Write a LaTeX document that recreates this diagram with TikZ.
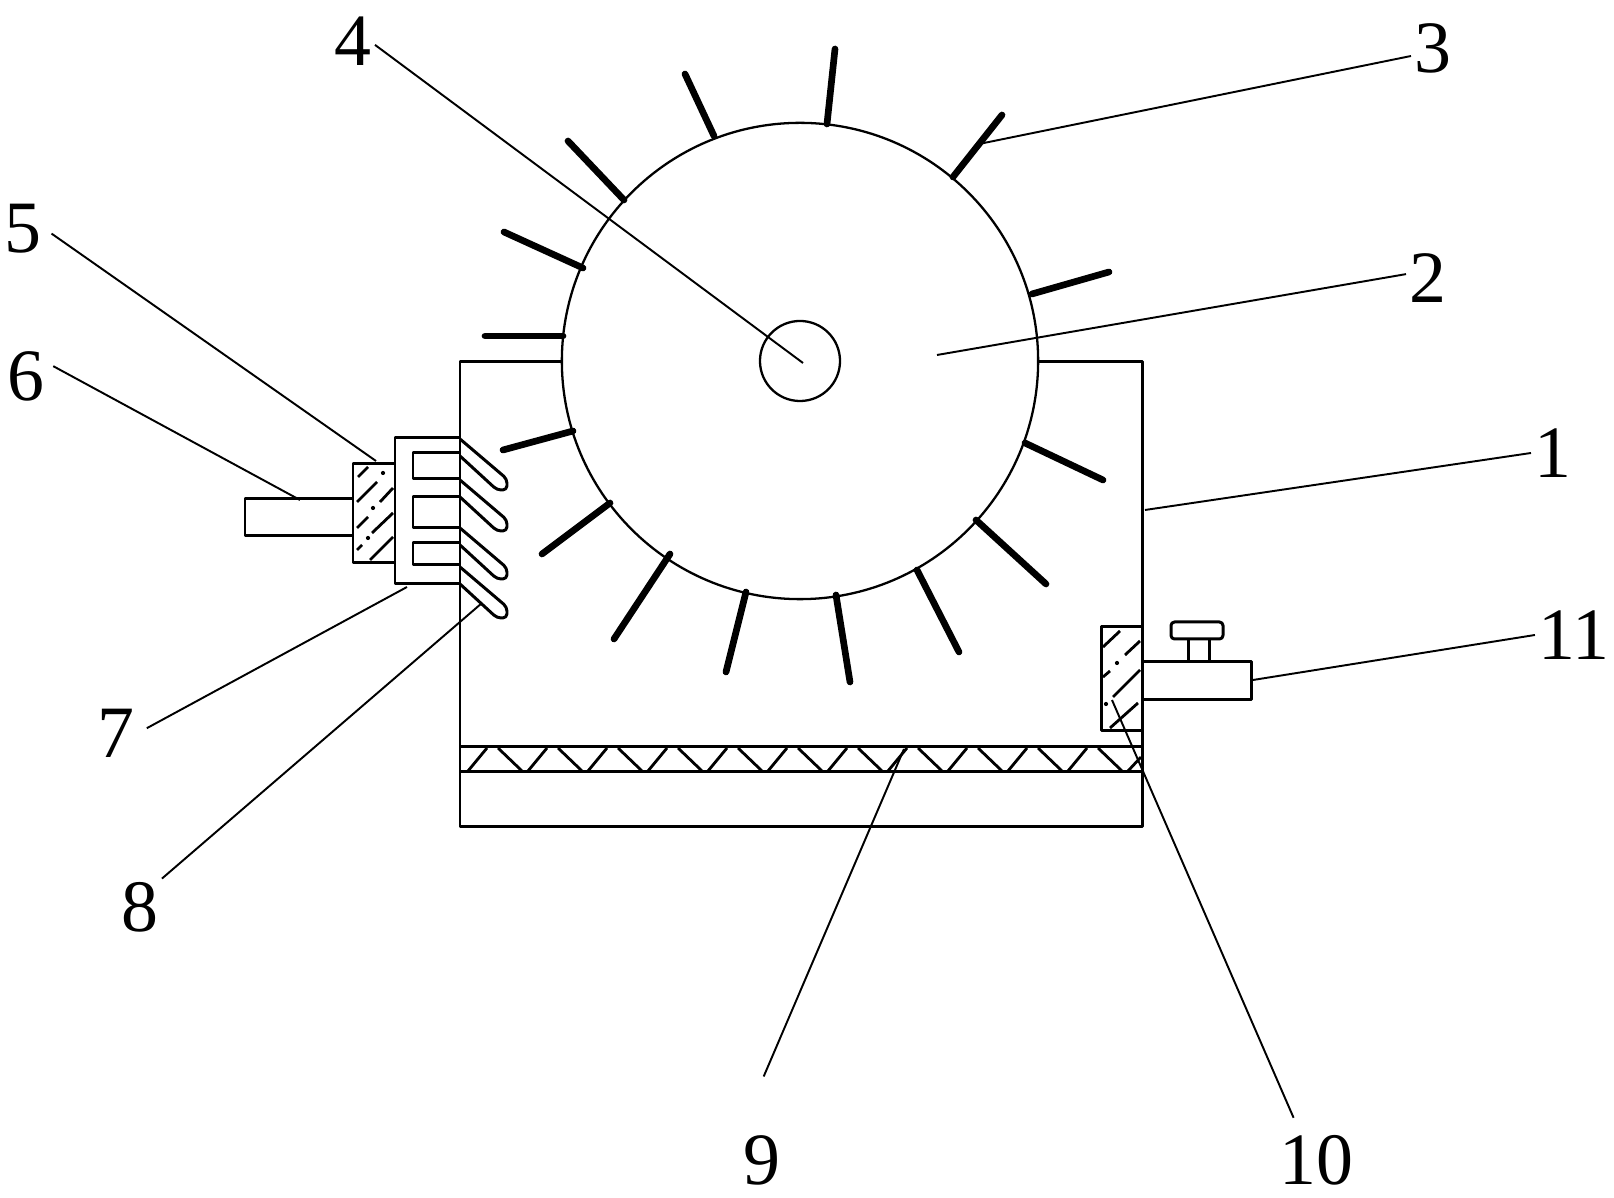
\documentclass[tikz,border=0pt]{standalone}
\usepackage{fontspec}
\setmainfont{Liberation Serif}
\usepackage{tikz}
\usetikzlibrary{calc}
\tikzset{
    part/.style = {line width = 0.85pt, line join = round},
    hatchline/.style = {line width = 0.8pt},
    spike/.style = {line width = 1.9pt, line cap = round},
    leader/.style = {line width = 0.55pt},
    partno/.style = {font = \fontsize{21}{21}\selectfont, inner sep = 1pt, outer sep = 0pt}
}

\begin{document}
\begin{tikzpicture}[x = 0.01cm, y = -0.01cm]
        \useasboundingbox (0, 0) rectangle (1614, 1198);

        \draw [part] (460, 362) rectangle (1142, 827);
        \draw [part] (460, 747) -- (1142, 747);
        \draw [part] (460, 772) -- (1142, 772);
        \foreach \a in {493, 553, ..., 1093}
        {
            \draw [hatchline] (\a-25, 771) -- (\a-6, 748);
            \draw [hatchline] (\a+5, 748) -- (\a+29, 771);
        }
        \draw [hatchline] (1128, 771) -- (1141, 757);

        \node (wheel) [circle, draw, line width = 0.65pt, fill = white, minimum size = 4.76cm, inner sep = 0pt] at (800, 361) {};
        \node (hub) [circle, draw, line width = 0.65pt, fill = white, minimum size = 0.8cm, inner sep = 0pt] at (800, 361) {};

        \foreach \a/\b/\c/\d in {835/49/827/124, 685/74/714/136, 568/141/624/200, 504/232/583/268,
            485/336/563/336, 503/450/573/431, 542/554/610/503, 614/639/670/554, 726/672/746/592,
            850/682/836/595, 959/652/917/570, 1046/584/976/520, 1103/480/1025/443, 1109/272/1032/294,
            1002/115/953/177}
        {
            \draw [spike] (\a, \b) -- (\c, \d);
        }

        \draw [part] (460, 438) -- (395, 438) -- (395, 584) -- (460, 584);
        \draw [part] (460, 453) -- (413, 453) -- (413, 479) -- (460, 479);
        \draw [part] (460, 497) -- (413, 497) -- (413, 528) -- (460, 528);
        \draw [part] (460, 543) -- (413, 543) -- (413, 565) -- (460, 565);
        \draw [part] (395, 464) -- (353, 464) -- (353, 563) -- (395, 563);
        \draw [part] (353, 499) -- (245, 499) -- (245, 536) -- (353, 536);

        \foreach \t in {439, 480, 528, 567}
        {
            \draw [part, rounded corners = 1.2pt] (460, \t) -- (507, \t+40) -- (507, \t+51) -- (497, \t+51) -- (460, \t+17);
        }

        \foreach \a/\b/\c/\d in {358/477/368/467, 357/502/377/482, 380/502/393/488, 357/528/368/517,
            372/533/393/513, 357/550/362/545, 370/560/393/537, 1103/647/1120/631, 1125/655/1140/641,
            1103/677/1110/671, 1113/697/1140/670, 1110/728/1138/703}
        {
            \draw [hatchline] (\a, \b) -- (\c, \d);
        }
        \foreach \a/\b in {383/473, 373/508, 368/538, 1117/663, 1106/704}
        {
            \fill (\a, \b) circle (0.6pt);
        }

        \draw [part] (1101, 627) rectangle (1142, 731);
        \draw [part] (1142, 662) -- (1251, 662) -- (1251, 700) -- (1142, 700);
        \draw [part] (1188, 662) -- (1188, 639);
        \draw [part] (1209, 662) -- (1209, 639);
        \draw [part, rounded corners = 1pt] (1171, 622) rectangle (1223, 639);

        \node (no1) [partno] at (1553, 453) {1};
        \node (no2) [partno] at (1428, 278) {2};
        \node (no3) [partno] at (1433, 48) {3};
        \node (no4) [partno] at (353, 41) {4};
        \node (no5) [partno] at (23, 229) {5};
        \node (no6) [partno] at (26, 376) {6};
        \node (no7) [partno] at (116, 733) {7};
        \node (no8) [partno] at (140, 907) {8};
        \node (no9) [partno] at (762, 1160) {9};
        \node (no10) [partno] at (1316, 1160) {10};
        \node (no11) [partno] at (1574, 635) {11};

        \coordinate (tip1) at (1145, 510);
        \coordinate (tip2) at (937, 355);
        \coordinate (tip3) at (979, 144);
        \coordinate (tip4) at (803, 363);
        \coordinate (tip5) at (376, 461);
        \coordinate (tip6) at (300, 500);
        \coordinate (tip7) at (407, 587);
        \coordinate (tip8) at (482, 603);
        \coordinate (tip9) at (904, 749);
        \coordinate (tip10) at (1112, 700);
        \coordinate (tip11) at (1253, 680);

        \draw [leader] (no1.west) -- (tip1);
        \draw [leader] (no2.170) -- (tip2);
        \draw [leader] (no3.200) -- (tip3);
        \draw [leader] (no4.-10) -- (tip4);
        \draw [leader, shorten <= 0.08cm] (no5.east) -- (tip5);
        \draw [leader, shorten <= 0.06cm] (no6.30) -- (tip6);
        \draw [leader, shorten <= 0.1cm] (no7.east) -- (tip7);
        \draw [leader] (no8.north east) -- (tip8);
        \draw [leader, shorten <= 0.6cm] (no9.north west) -- (tip9);
        \draw [leader, shorten <= 0.15cm] (no10.120) -- (tip10);
        \draw [leader] (no11.west) -- (tip11);
\end{tikzpicture}
\end{document}
